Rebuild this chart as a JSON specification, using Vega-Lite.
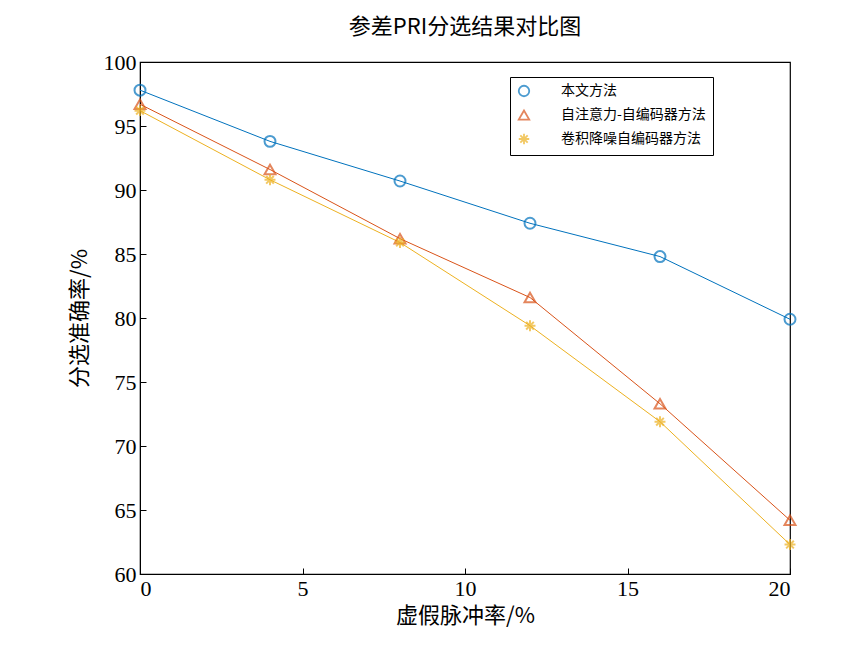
{
"$schema":"https://vega.github.io/schema/vega-lite/v6.json",
"width":650,"height":512,"autosize":"none",
"padding":{"left":140,"top":62,"right":71,"bottom":91},
"background":"white",
"title":{"text":"参差PRI分选结果对比图","font":"Noto Sans CJK SC","fontSize":22,"fontWeight":"normal","offset":12,"color":"#000"},
"config":{"view":{"stroke":"#000","strokeWidth":1.2},"font":"Liberation Serif"},
"data":{"values":[
{"x":0,"y":97.8,"s":"本文方法"},{"x":4,"y":93.8,"s":"本文方法"},{"x":8,"y":90.7,"s":"本文方法"},{"x":12,"y":87.4,"s":"本文方法"},{"x":16,"y":84.8,"s":"本文方法"},{"x":20,"y":79.9,"s":"本文方法"},
{"x":0,"y":96.7,"s":"自注意力-自编码器方法"},{"x":4,"y":91.6,"s":"自注意力-自编码器方法"},{"x":8,"y":86.2,"s":"自注意力-自编码器方法"},{"x":12,"y":81.6,"s":"自注意力-自编码器方法"},{"x":16,"y":73.3,"s":"自注意力-自编码器方法"},{"x":20,"y":64.2,"s":"自注意力-自编码器方法"},
{"x":0,"y":96.2,"s":"卷积降噪自编码器方法"},{"x":4,"y":90.8,"s":"卷积降噪自编码器方法"},{"x":8,"y":85.9,"s":"卷积降噪自编码器方法"},{"x":12,"y":79.4,"s":"卷积降噪自编码器方法"},{"x":16,"y":71.9,"s":"卷积降噪自编码器方法"},{"x":20,"y":62.3,"s":"卷积降噪自编码器方法"}
]},
"encoding":{
"x":{"field":"x","type":"quantitative","scale":{"domain":[0,20],"nice":false},"axis":{"title":"虚假脉冲率/%","titleFont":"Noto Sans CJK SC","titleFontSize":22,"titleFontWeight":"normal","titleColor":"#000","labelFontSize":22,"labelColor":"#000","values":[0,5,10,15,20],"grid":false,"tickSize":-6,"domainColor":"#000","tickColor":"#000","labelPadding":10,"titlePadding":6}},
"y":{"field":"y","type":"quantitative","scale":{"domain":[60,100],"nice":false,"zero":false},"axis":{"title":"分选准确率/%","titleFont":"Noto Sans CJK SC","titleFontSize":22,"titleFontWeight":"normal","titleColor":"#000","labelFontSize":22,"labelColor":"#000","values":[60,65,70,75,80,85,90,95,100],"grid":false,"tickSize":-6,"domainColor":"#000","tickColor":"#000","labelPadding":10,"titlePadding":12}},
"color":{"field":"s","type":"nominal","scale":{"domain":["本文方法","自注意力-自编码器方法","卷积降噪自编码器方法"],"range":["#0072BD","#D95319","#EDB120"]},
"legend":{"title":null,"orient":"none","legendX":370,"legendY":15,"labelFont":"Noto Sans CJK SC","labelFontSize":14,"labelColor":"#000","strokeColor":"#000","fillColor":"white","padding":7,"rowPadding":6,"symbolStrokeWidth":1.8,"symbolSize":110,"symbolFillColor":"transparent","labelOffset":30}}
},
"layer":[
{"mark":{"type":"line","strokeWidth":1}},
{"mark":{"type":"point","filled":false,"size":120,"strokeWidth":2},
"encoding":{"shape":{"field":"s","type":"nominal","scale":{"domain":["本文方法","自注意力-自编码器方法","卷积降噪自编码器方法"],"range":["circle","triangle-up","M-1,0L1,0M0,-1L0,1M-0.7,-0.7L0.7,0.7M-0.7,0.7L0.7,-0.7"]}}}}
]
}
